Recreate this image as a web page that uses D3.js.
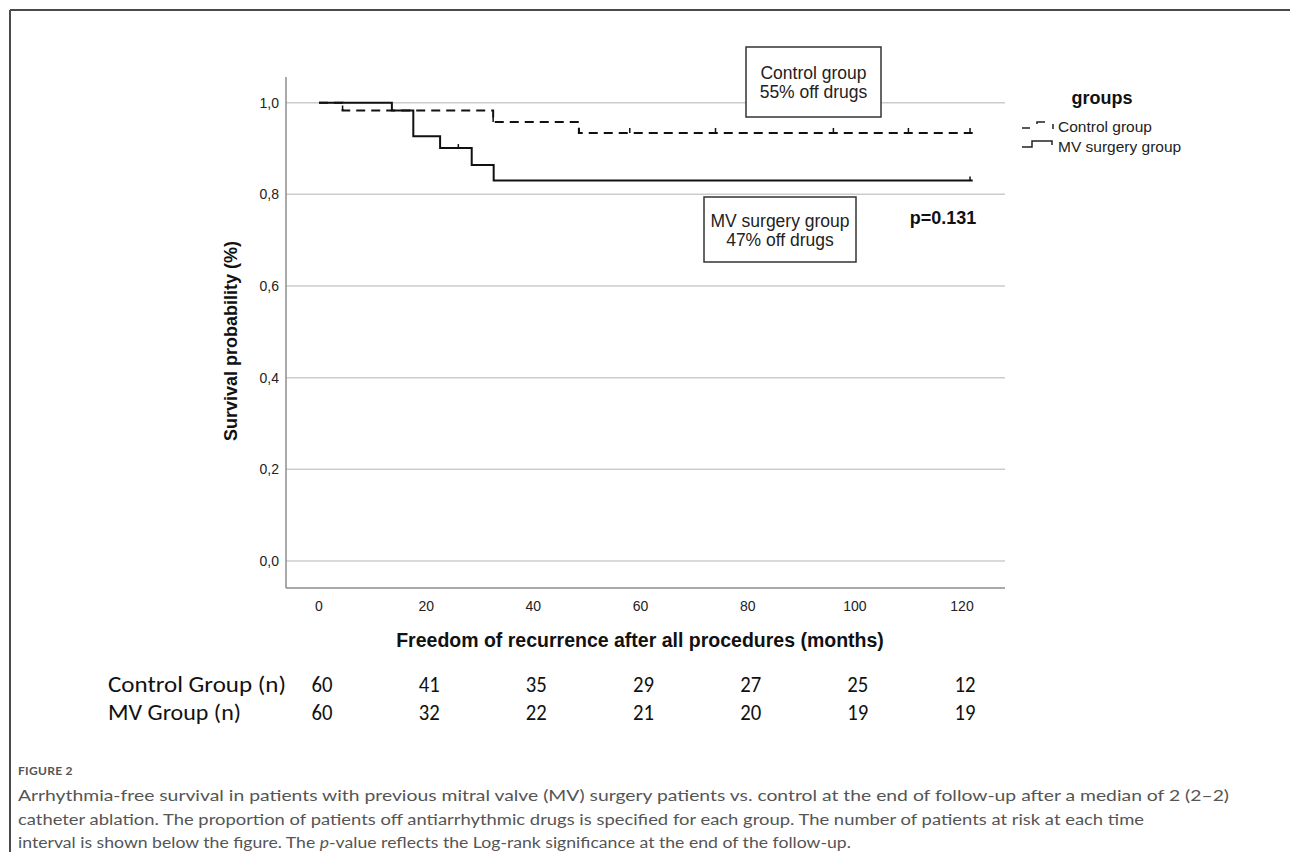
<!DOCTYPE html>
<html>
<head>
<meta charset="utf-8">
<script src="https://cdn.jsdelivr.net/npm/d3@7"></script>
<style>
  html, body { margin: 0; padding: 0; background: #fff; }
  svg { display: block; }
</style>
</head>
<body>
<svg id="chart" width="1290" height="852"></svg>
<script>
// ---------------- data ----------------
const xTickValues = [0, 20, 40, 60, 80, 100, 120];
const yTickValues = [0, 0.2, 0.4, 0.6, 0.8, 1.0];
const yTickLabels = ["0,0", "0,2", "0,4", "0,6", "0,8", "1,0"];

// Kaplan-Meier steps (time in months, survival probability)
const controlTimes = [0, 4.4, 32.5, 48.5, 122];
const controlSurv  = [1.0, 0.983, 0.958, 0.934, 0.934];
const controlCensor = [4.4, 32.5, 48.5, 58, 74, 96, 110, 121.5];

const mvTimes = [0, 13.6, 17.6, 22.6, 28.5, 32.6, 122];
const mvSurv  = [1.0, 0.983, 0.927, 0.901, 0.864, 0.830, 0.830];
const mvCensor = [26, 121.5];

const seriesNames = ["Control group", "MV surgery group"];

// at-risk table
const riskTimes = [0, 20, 40, 60, 80, 100, 120];
const riskRowLabels = ["Control Group (n)", "MV Group (n)"];
const controlAtRisk = [60, 41, 35, 29, 27, 25, 12];
const mvAtRisk = [60, 32, 22, 21, 20, 19, 19];

const controlNote = ["Control group", "55% off drugs"];
const mvNote = ["MV surgery group", "47% off drugs"];
const pValueText = "p=0.131";

const yTitle = "Survival probability (%)";
const xTitle = "Freedom of recurrence after all procedures (months)";
const legendTitle = "groups";

const figLabel = "FIGURE 2";
const captionLine1 = "Arrhythmia-free survival in patients with previous mitral valve (MV) surgery patients vs. control at the end of follow-up after a median of 2 (2\u20132)";
const captionLine2 = "catheter ablation. The proportion of patients off antiarrhythmic drugs is specified for each group. The number of patients at risk at each time";
const captionLine3 = ["interval is shown below the figure. The ", "p", "-value reflects the Log-rank significance at the end of the follow-up."];

// ---------------- drawing ----------------
const svg = d3.select("#chart");
const sans = "'Liberation Sans', Arial, sans-serif";

// outer frame
svg.append("line").attr("x1", 10).attr("y1", 10).attr("x2", 1290).attr("y2", 10)
  .attr("stroke", "#4a4a4a").attr("stroke-width", 2);
svg.append("line").attr("x1", 10).attr("y1", 10).attr("x2", 10).attr("y2", 852)
  .attr("stroke", "#4a4a4a").attr("stroke-width", 2);

const x = d3.scaleLinear().domain([0, 120]).range([319, 962]);
const y = d3.scaleLinear().domain([0, 1]).range([561, 102.7]);

const plotLeft = 286, plotRight = 1005, plotTop = 77, plotBottom = 588;

// gridlines
svg.append("g").selectAll("line").data(yTickValues).join("line")
  .attr("x1", plotLeft).attr("x2", plotRight)
  .attr("y1", d => y(d)).attr("y2", d => y(d))
  .attr("stroke", "#cccccc").attr("stroke-width", 1.5);

// axes lines
svg.append("line").attr("x1", plotLeft).attr("x2", plotLeft).attr("y1", plotTop).attr("y2", plotBottom)
  .attr("stroke", "#8c8c8c").attr("stroke-width", 1.5);
svg.append("line").attr("x1", plotLeft).attr("x2", plotRight).attr("y1", plotBottom).attr("y2", plotBottom)
  .attr("stroke", "#8c8c8c").attr("stroke-width", 1.5);

// y tick labels
svg.append("g").selectAll("text").data(yTickValues).join("text")
  .attr("x", 279).attr("y", d => y(d)).attr("dy", "0.35em")
  .attr("text-anchor", "end").attr("font-family", sans).attr("font-size", 14).attr("fill", "#222")
  .text((d, i) => yTickLabels[i]);

// x tick labels
svg.append("g").selectAll("text").data(xTickValues).join("text")
  .attr("x", d => x(d)).attr("y", 606).attr("dy", "0.35em")
  .attr("text-anchor", "middle").attr("font-family", sans).attr("font-size", 14).attr("fill", "#222")
  .text(d => d);

// axis titles
svg.append("text").attr("transform", `translate(237,341) rotate(-90)`)
  .attr("text-anchor", "middle").attr("font-family", sans).attr("font-weight", "bold")
  .attr("font-size", 18).attr("fill", "#111").text(yTitle);
svg.append("text").attr("x", 640).attr("y", 647)
  .attr("text-anchor", "middle").attr("font-family", sans).attr("font-weight", "bold")
  .attr("font-size", 19.5).attr("fill", "#111").text(xTitle);

// KM curves
function stepData(times, surv) {
  return times.map((t, i) => [t, surv[i]]);
}
const line = d3.line().x(d => x(d[0])).y(d => y(d[1])).curve(d3.curveStepAfter);

svg.append("path").datum(stepData(mvTimes, mvSurv))
  .attr("d", line).attr("fill", "none").attr("stroke", "#111").attr("stroke-width", 2);
svg.append("path").datum(stepData(controlTimes, controlSurv))
  .attr("d", line).attr("fill", "none").attr("stroke", "#111").attr("stroke-width", 2)
  .attr("stroke-dasharray", "9,6");

function survAt(times, surv, t) {
  let v = surv[0];
  for (let i = 0; i < times.length; i++) if (times[i] <= t) v = surv[i];
  return v;
}
// censor ticks
svg.append("g").selectAll("line").data(controlCensor).join("line")
  .attr("x1", d => x(d)).attr("x2", d => x(d))
  .attr("y1", d => y(survAt(controlTimes, controlSurv, d))).attr("y2", d => y(survAt(controlTimes, controlSurv, d)) - 5)
  .attr("stroke", "#111").attr("stroke-width", 1.5);
svg.append("g").selectAll("line").data(mvCensor).join("line")
  .attr("x1", d => x(d)).attr("x2", d => x(d))
  .attr("y1", d => y(survAt(mvTimes, mvSurv, d))).attr("y2", d => y(survAt(mvTimes, mvSurv, d)) - 4)
  .attr("stroke", "#111").attr("stroke-width", 1.5);

// annotation boxes
function noteBox(cx, top, w, h, lines) {
  svg.append("rect").attr("x", cx - w / 2).attr("y", top).attr("width", w).attr("height", h)
    .attr("fill", "#fff").attr("stroke", "#333").attr("stroke-width", 1.5);
  svg.append("g").selectAll("text").data(lines).join("text")
    .attr("x", cx).attr("y", (d, i) => top + h / 2 - 9 + i * 19).attr("dy", "0.35em")
    .attr("text-anchor", "middle").attr("font-family", sans).attr("font-size", 17.5).attr("fill", "#222")
    .text(d => d);
}
noteBox(813.5, 47, 135, 70, controlNote);
noteBox(780, 197, 152, 65, mvNote);

svg.append("text").attr("x", 943).attr("y", 218).attr("dy", "0.35em").attr("text-anchor", "middle")
  .attr("font-family", sans).attr("font-weight", "bold").attr("font-size", 18).attr("fill", "#111")
  .text(pValueText);

// legend
svg.append("text").attr("x", 1102).attr("y", 98).attr("dy", "0.35em").attr("text-anchor", "middle")
  .attr("font-family", sans).attr("font-weight", "bold").attr("font-size", 18).attr("fill", "#111")
  .text(legendTitle);
const legendY = [127, 147];
svg.append("g").selectAll("text").data(seriesNames).join("text")
  .attr("x", 1058).attr("y", (d, i) => legendY[i]).attr("dy", "0.35em")
  .attr("font-family", sans).attr("font-size", 15.5).attr("fill", "#222").text(d => d);
// control glyph
const lc = d3.path();
lc.moveTo(1022, legendY[0] + 1); lc.lineTo(1030, legendY[0] + 1);
lc.moveTo(1037, legendY[0] - 3); lc.lineTo(1037, legendY[0] - 5); lc.lineTo(1045, legendY[0] - 5);
lc.moveTo(1053, legendY[0] - 3); lc.lineTo(1053, legendY[0] + 2);
svg.append("path").attr("d", lc.toString()).attr("fill", "none").attr("stroke", "#222").attr("stroke-width", 1.5);
const lm = d3.path();
lm.moveTo(1022, legendY[1]); lm.lineTo(1032, legendY[1]); lm.lineTo(1032, legendY[1] - 6);
lm.lineTo(1052, legendY[1] - 6); lm.lineTo(1052, legendY[1] - 2);
svg.append("path").attr("d", lm.toString()).attr("fill", "none").attr("stroke", "#222").attr("stroke-width", 1.5);

// at-risk table
const tableFont = "Carlito, Calibri, Lato, sans-serif";
const rowY = [684, 712];
const riskRows = [controlAtRisk, mvAtRisk];
const tableSize = 22.5;
svg.append("g").selectAll("text").data(riskRowLabels).join("text")
  .attr("x", 108).attr("y", (d, i) => rowY[i]).attr("dy", "0.35em")
  .attr("font-family", tableFont).attr("font-size", tableSize).attr("fill", "#111")
  .attr("textLength", (d, i) => i === 0 ? 178 : 133).attr("lengthAdjust", "spacingAndGlyphs")
  .text(d => d);
riskRows.forEach((row, r) => {
  svg.append("g").selectAll("text").data(row).join("text")
    .attr("x", (d, i) => x(riskTimes[i]) + 3).attr("y", rowY[r]).attr("dy", "0.35em")
    .attr("text-anchor", "middle").attr("font-family", tableFont).attr("font-size", tableSize).attr("fill", "#111")
    .attr("textLength", 21).attr("lengthAdjust", "spacingAndGlyphs")
    .text(d => d);
});

// caption
const capFont = "Lato, 'Open Sans', sans-serif";
svg.append("text").attr("x", 18).attr("y", 775).attr("font-family", capFont).attr("font-size", 12)
  .attr("font-weight", "bold").attr("fill", "#555").attr("letter-spacing", 0.3).text(figLabel);
const capSize = 16;
svg.append("text").attr("x", 18).attr("y", 801).attr("font-family", capFont).attr("font-size", capSize)
  .attr("fill", "#555").attr("textLength", 1211).attr("lengthAdjust", "spacingAndGlyphs").text(captionLine1);
svg.append("text").attr("x", 18).attr("y", 825).attr("font-family", capFont).attr("font-size", capSize)
  .attr("fill", "#555").attr("textLength", 1126).attr("lengthAdjust", "spacingAndGlyphs").text(captionLine2);
const l3 = svg.append("text").attr("font-family", capFont).attr("font-size", capSize).attr("fill", "#555");
l3.append("tspan").text(captionLine3[0]);
l3.append("tspan").attr("font-style", "italic").text(captionLine3[1]);
l3.append("tspan").text(captionLine3[2]);
const w3 = l3.node().getComputedTextLength();
l3.attr("transform", `translate(18,848) scale(${833 / w3},1)`);
</script>
</body>
</html>
